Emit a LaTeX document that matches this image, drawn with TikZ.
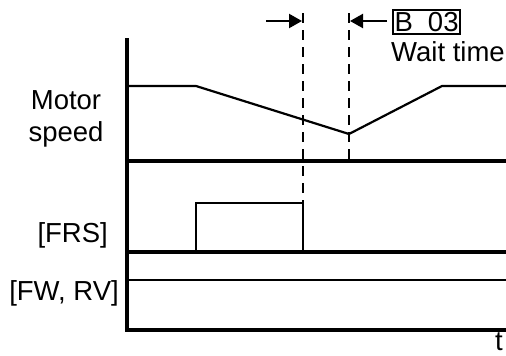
\documentclass[tikz,border=0pt]{standalone}
\usepackage{fontspec}
\setmainfont{Liberation Sans}
\usetikzlibrary{arrows.meta}
\begin{document}
\begin{tikzpicture}[x=1pt,y=-1pt,
  thickln/.style={line width=3.2pt},
  thinln/.style={line width=2.2pt},
  dashln/.style={line width=2.5pt,dash pattern=on 10pt off 7pt},
  arr/.style={line width=2.2pt,-{Triangle[length=13pt,width=14pt]}},
  lbl/.style={font=\fontsize{27.5}{32}\selectfont,inner sep=0pt}]
\useasboundingbox (0,0) rectangle (506,356);
% axes and baselines
\coordinate (top) at (127,38);
\coordinate (bot) at (127,330);
\draw[thickln] (top) -- (bot) -- (506,330);
\draw[thickln] (127,161) -- (506,161);
\draw[thickln] (127,252) -- (506,252);
\draw[thinln] (127,280) -- (506,280);
% motor speed
\coordinate (m1) at (127,86);
\coordinate (m2) at (196,86);
\coordinate (mmin) at (349,134);
\coordinate (m3) at (442,86);
\coordinate (m4) at (506,86);
\draw[thinln,line join=miter] (m1) -- (m2) -- (mmin) -- (m3) -- (m4);
% FRS pulse
\coordinate (f1) at (196,252);
\coordinate (f2) at (196,203);
\coordinate (f3) at (303,203);
\coordinate (f4) at (303,252);
\draw[thinln] (f1) -- (f2) -- (f3) -- (f4);
% dashed lines
\coordinate (d1) at (303,13);
\coordinate (d2) at (349,13);
\coordinate (d2e) at (349,161);
\draw[dashln] (d1) -- (f3);
\draw[dashln] (d2) -- (d2e);
% arrows
\coordinate (a1) at (266,21);
\coordinate (a1e) at (302,21);
\coordinate (a2) at (387,21);
\coordinate (a2e) at (350,21);
\draw[arr] (a1) -- (a1e);
\draw[arr] (a2) -- (a2e);
% labels
\node[lbl,draw,line width=2pt,inner xsep=1.5pt,inner ysep=2pt,anchor=west] (b03) at (392,22) {B\hspace{0.55em}03};
\node[lbl,anchor=west] (wait) at (391,52) {Wait time};
\node[lbl,align=center] (motor) at (66,119) {Motor\\speed};
\node[lbl,anchor=east] (frs) at (108,235) {[FRS]};
\node[lbl,anchor=east] (fwrv) at (119,293) {[FW, RV]};
\node[lbl,anchor=base] (t) at (499,350) {t};
\end{tikzpicture}
\end{document}
